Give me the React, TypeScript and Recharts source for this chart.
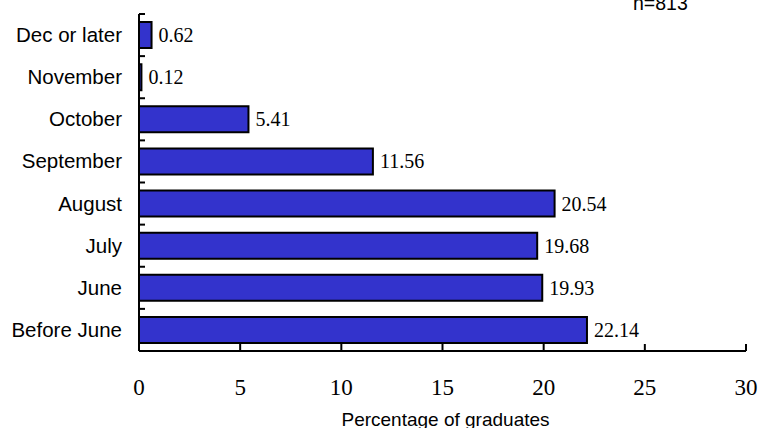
import React from 'react';
import { BarChart, Bar, XAxis, YAxis, LabelList } from 'recharts';

const categories = ['Dec or later', 'November', 'October', 'September', 'August', 'July', 'June', 'Before June'];
const percentages = [0.62, 0.12, 5.41, 11.56, 20.54, 19.68, 19.93, 22.14];
const xTicks = [0, 5, 10, 15, 20, 25, 30];
const sampleNote = 'n=813';
const axisTitle = 'Percentage of graduates';

const data = categories.map((name, i) => ({ name, value: percentages[i] }));

const SANS = '"Liberation Sans", Arial, sans-serif';
const SERIF = '"Liberation Serif", "Times New Roman", serif';

const YTick = (props: any) => {
  const { x, y, payload, index, visibleTicksCount } = props;
  const half = payload && typeof payload.offset === 'number' && payload.offset > 0 ? payload.offset : 21;
  const last = index === (visibleTicksCount ?? categories.length) - 1;
  return (
    <g>
      <line x1={x} x2={x + 6} y1={y - half} y2={y - half} stroke="#000" strokeWidth={2} />
      {last && <line x1={x} x2={x + 6} y1={y + half} y2={y + half} stroke="#000" strokeWidth={2} />}
      <text x={x - 17} y={y} dy={7} textAnchor="end" fontFamily={SANS} fontSize={20.5} fill="#000">
        {payload.value}
      </text>
    </g>
  );
};

const XTick = (props: any) => {
  const { x, y, payload } = props;
  return (
    <g>
      <line x1={x} x2={x} y1={y} y2={y - 7} stroke="#000" strokeWidth={2} />
      <text x={x} y={y + 44} textAnchor="middle" fontFamily={SERIF} fontSize={23} fill="#000">
        {payload.value}
      </text>
    </g>
  );
};

export default function App() {
  return (
    <div style={{ position: 'absolute', left: 0, top: 0, width: 759, height: 428, background: '#fff' }}>
      <BarChart
        width={759}
        height={428}
        data={data}
        layout="vertical"
        margin={{ top: 14, right: 13, left: 0, bottom: 0 }}
        barCategoryGap={0}
      >
        <XAxis
          type="number"
          domain={[0, 30]}
          ticks={xTicks}
          interval={0}
          height={77}
          tickSize={0}
          tickMargin={0}
          tickLine={false}
          axisLine={{ stroke: '#000', strokeWidth: 2 }}
          tick={<XTick />}
          label={{ value: axisTitle, position: 'insideBottom', offset: 2, dx: 3, fontFamily: SANS, fontSize: 19, fill: '#000' }}
        />
        <YAxis
          type="category"
          dataKey="name"
          width={139}
          interval={0}
          tickSize={0}
          tickMargin={0}
          tickLine={false}
          axisLine={{ stroke: '#000', strokeWidth: 2 }}
          tick={<YTick />}
        />
        <Bar dataKey="value" fill="#3333CC" stroke="#000" strokeWidth={2} barSize={26} isAnimationActive={false}>
          <LabelList dataKey="value" position="right" offset={7} fontFamily={SERIF} fontSize={20} fill="#000" />
        </Bar>
        <text x={633} y={10} fontFamily={SANS} fontSize={19.5} fill="#000">{sampleNote}</text>
      </BarChart>
    </div>
  );
}
